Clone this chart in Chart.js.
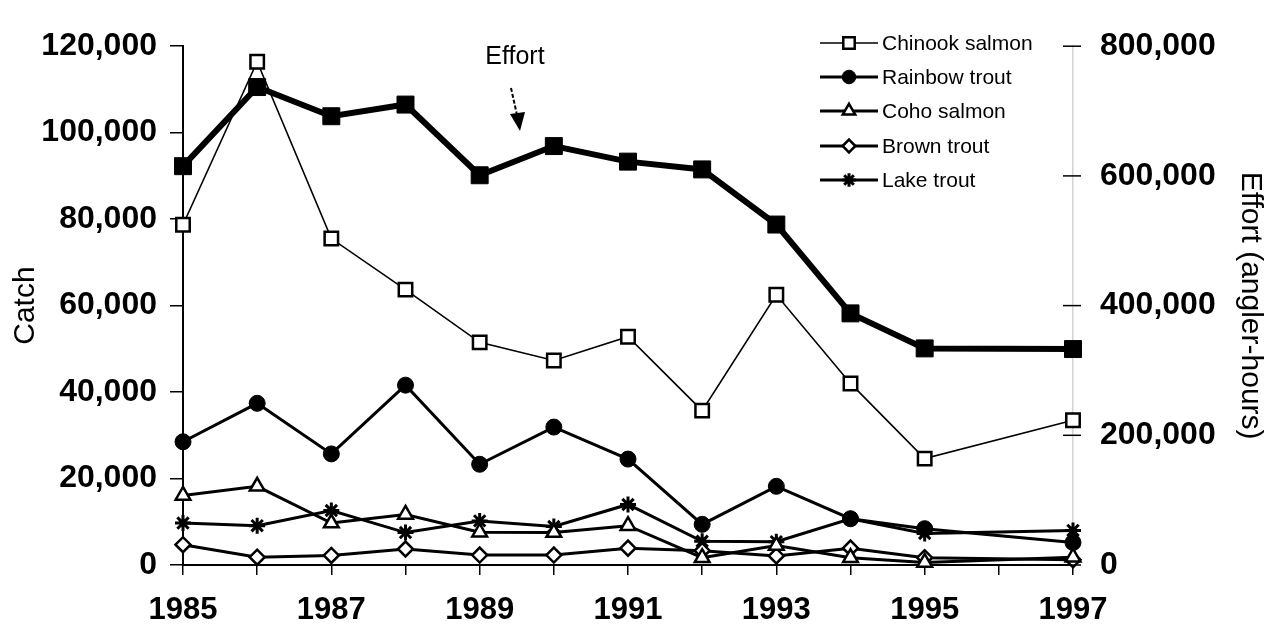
<!DOCTYPE html>
<html>
<head>
<meta charset="utf-8">
<script src="https://cdn.jsdelivr.net/npm/chart.js@4.4.0/dist/chart.umd.min.js"></script>
<style>
  html, body { margin: 0; padding: 0; background: #fff; overflow: hidden; }
  #wrap { width: 1277px; height: 632px; position: relative; }
</style>
</head>
<body>
<div id="wrap"><canvas id="c" width="1277" height="632"></canvas></div>
<script>
// Survey years (no survey in 1996)
const years = [1985, 1986, 1987, 1988, 1989, 1990, 1991, 1992, 1993, 1994, 1995, 1997];

// Catch by species (fish)
const chinookSalmon = [78700, 116400, 75500, 63700, 51500, 47300, 52800, 35700, 62500, 42000, 24600, 33500];
const rainbowTrout  = [28500, 37400, 25700, 41600, 23300, 31900, 24500, 9400, 18200, 10700, 8400, 5200];
const cohoSalmon    = [16100, 18200, 9700, 11700, 7600, 7500, 9100, 1700, 4500, 1700, 600, 1800];
const brownTrout    = [4700, 1800, 2200, 3700, 2300, 2300, 3900, 3300, 2100, 3900, 1700, 1200];
const lakeTrout     = [9700, 9100, 12600, 7500, 10200, 8900, 14000, 5500, 5400, 10700, 7300, 8000];

// Fishing effort (angler-hours)
const effort = [615000, 737000, 692000, 710000, 601000, 646000, 622000, 610000, 525000, 388000, 334000, 333000];

// Axis ticks
const catchTicks  = [0, 20000, 40000, 60000, 80000, 100000, 120000];
const effortTicks = [0, 200000, 400000, 600000, 800000];

const species = ['Chinook salmon', 'Rainbow trout', 'Coho salmon', 'Brown trout', 'Lake trout'];

const FONT = '"Liberation Sans", Arial, Helvetica, sans-serif';
const pts = arr => years.map((yr, i) => ({ x: yr, y: arr[i] }));

const seriesStyle = [
  { pointStyle: 'rect',     radius: 9.5, bg: '#fff', line: 1.6, pbw: 2.5 },
  { pointStyle: 'circle',   radius: 8,   bg: '#000', line: 3,   pbw: 1 },
  { pointStyle: 'triangle', radius: 8.5, bg: '#fff', line: 3,   pbw: 2.5 },
  { pointStyle: 'rectRot',  radius: 7.5, bg: '#fff', line: 3,   pbw: 2.5 },
  { pointStyle: 'star',     radius: 8,   bg: '#000', line: 3,   pbw: 3 }
];
const catchSeries = [chinookSalmon, rainbowTrout, cohoSalmon, brownTrout, lakeTrout];

const datasets = catchSeries.map((arr, i) => ({
  label: species[i],
  data: pts(arr),
  yAxisID: 'y',
  borderColor: '#000',
  borderWidth: seriesStyle[i].line,
  pointStyle: seriesStyle[i].pointStyle,
  pointRadius: seriesStyle[i].radius,
  pointBackgroundColor: seriesStyle[i].bg,
  pointBorderColor: '#000',
  pointBorderWidth: seriesStyle[i].pbw,
  tension: 0,
  clip: false,
  order: i === 0 ? 0 : 2
}));
datasets.push({
  label: 'Effort',
  data: pts(effort),
  yAxisID: 'y1',
  borderColor: '#000',
  borderWidth: 6,
  pointStyle: 'rect',
  pointRadius: 12,
  pointBackgroundColor: '#000',
  pointBorderColor: '#000',
  pointBorderWidth: 1,
  tension: 0,
  clip: false,
  order: 1
});

// Short dashes across the right-hand axis at each effort tick
const rightTickMarks = {
  id: 'rightTickMarks',
  afterDraw(chart) {
    const ctx = chart.ctx, s = chart.scales.y1;
    ctx.save();
    ctx.strokeStyle = '#000';
    ctx.lineWidth = 1.5;
    effortTicks.forEach(v => {
      const y = s.getPixelForValue(v);
      ctx.beginPath();
      ctx.moveTo(s.left - 10, y);
      ctx.lineTo(s.left + 8, y);
      ctx.stroke();
    });
    ctx.restore();
  }
};

// Legend box in the upper right: line sample, marker, name
const speciesLegend = {
  id: 'speciesLegend',
  afterDraw(chart) {
    const ctx = chart.ctx;
    const x0 = 820, x1 = 878, xm = 849, xt = 882;
    const rows = [43, 77, 111, 146, 180];
    ctx.save();
    species.forEach((name, i) => {
      const st = seriesStyle[i];
      const y = rows[i];
      ctx.strokeStyle = '#000';
      ctx.lineWidth = st.line;
      ctx.beginPath();
      ctx.moveTo(x0, y);
      ctx.lineTo(x1, y);
      ctx.stroke();
      ctx.fillStyle = st.bg;
      ctx.lineWidth = st.pbw;
      Chart.helpers.drawPoint(ctx, {
        pointStyle: st.pointStyle, rotation: 0,
        radius: st.radius * 0.85, borderWidth: st.pbw
      }, xm, y);
      ctx.fillStyle = '#000';
      ctx.font = '21px ' + FONT;
      ctx.textAlign = 'left';
      ctx.textBaseline = 'middle';
      ctx.fillText(name, xt, y + 1);
    });
    ctx.restore();
  }
};

// "Effort" label with an arrow pointing at the effort line
const effortNote = {
  id: 'effortNote',
  afterDraw(chart) {
    const ctx = chart.ctx;
    ctx.save();
    ctx.fillStyle = '#000';
    ctx.font = '25px ' + FONT;
    ctx.textAlign = 'center';
    ctx.textBaseline = 'middle';
    ctx.fillText('Effort', 515, 57);
    ctx.strokeStyle = '#000';
    ctx.lineWidth = 2;
    ctx.setLineDash([4, 2]);
    ctx.beginPath();
    ctx.moveTo(511, 88);
    ctx.lineTo(517, 115);
    ctx.stroke();
    ctx.setLineDash([]);
    ctx.beginPath();
    ctx.moveTo(520, 131);
    ctx.lineTo(510, 114);
    ctx.lineTo(525, 112);
    ctx.closePath();
    ctx.fill();
    ctx.restore();
  }
};

new Chart(document.getElementById('c'), {
  type: 'line',
  data: { datasets },
  plugins: [rightTickMarks, speciesLegend, effortNote],
  options: {
    responsive: false,
    devicePixelRatio: 1,
    animation: false,
    events: [],
    layout: { padding: { top: 23, left: 0, right: 0, bottom: 0 } },
    plugins: { legend: { display: false }, tooltip: { enabled: false } },
    scales: {
      x: {
        type: 'linear',
        min: years[0],
        max: years[years.length - 1],
        afterFit: s => { s.height = 67; },
        afterBuildTicks: s => {
          s.ticks = [];
          for (let v = years[0]; v <= years[years.length - 1]; v++) s.ticks.push({ value: v });
        },
        ticks: {
          autoSkip: false, maxRotation: 0, color: '#000', padding: 17,
          font: { family: FONT, size: 31, weight: 'bold' },
          callback: v => (v % 2 === 1 ? String(v) : '')
        },
        grid: { drawOnChartArea: false, drawTicks: true, tickLength: 10, color: '#000', lineWidth: 1.5 },
        border: { display: true, color: '#000', width: 2 }
      },
      y: {
        position: 'left',
        min: catchTicks[0],
        max: catchTicks[catchTicks.length - 1],
        afterFit: s => { s.width = 183; },
        afterBuildTicks: s => { s.ticks = catchTicks.map(v => ({ value: v })); },
        ticks: {
          color: '#000', padding: 13,
          font: { family: FONT, size: 32, weight: 'bold' },
          callback: v => v.toLocaleString('en-US')
        },
        grid: { drawOnChartArea: false, drawTicks: true, tickLength: 13, color: '#000', lineWidth: 1.5 },
        border: { display: true, color: '#000', width: 2 },
        title: {
          display: true, text: 'Catch', color: '#000',
          font: { family: FONT, size: 30 }, padding: { top: 8, bottom: 0 }
        }
      },
      y1: {
        position: 'right',
        min: effortTicks[0],
        max: effortTicks[effortTicks.length - 1],
        afterFit: s => { s.width = 204; },
        afterBuildTicks: s => { s.ticks = effortTicks.map(v => ({ value: v })); },
        ticks: {
          color: '#000', padding: 27,
          font: { family: FONT, size: 32, weight: 'bold' },
          callback: v => v.toLocaleString('en-US')
        },
        grid: { drawOnChartArea: false, drawTicks: false },
        border: { display: true, color: '#d4d4d4', width: 1.5 },
        title: {
          display: true, text: 'Effort (angler-hours)', color: '#000',
          font: { family: FONT, size: 30 }, padding: { top: 9, bottom: 0 }
        }
      }
    }
  }
});
</script>
</body>
</html>
